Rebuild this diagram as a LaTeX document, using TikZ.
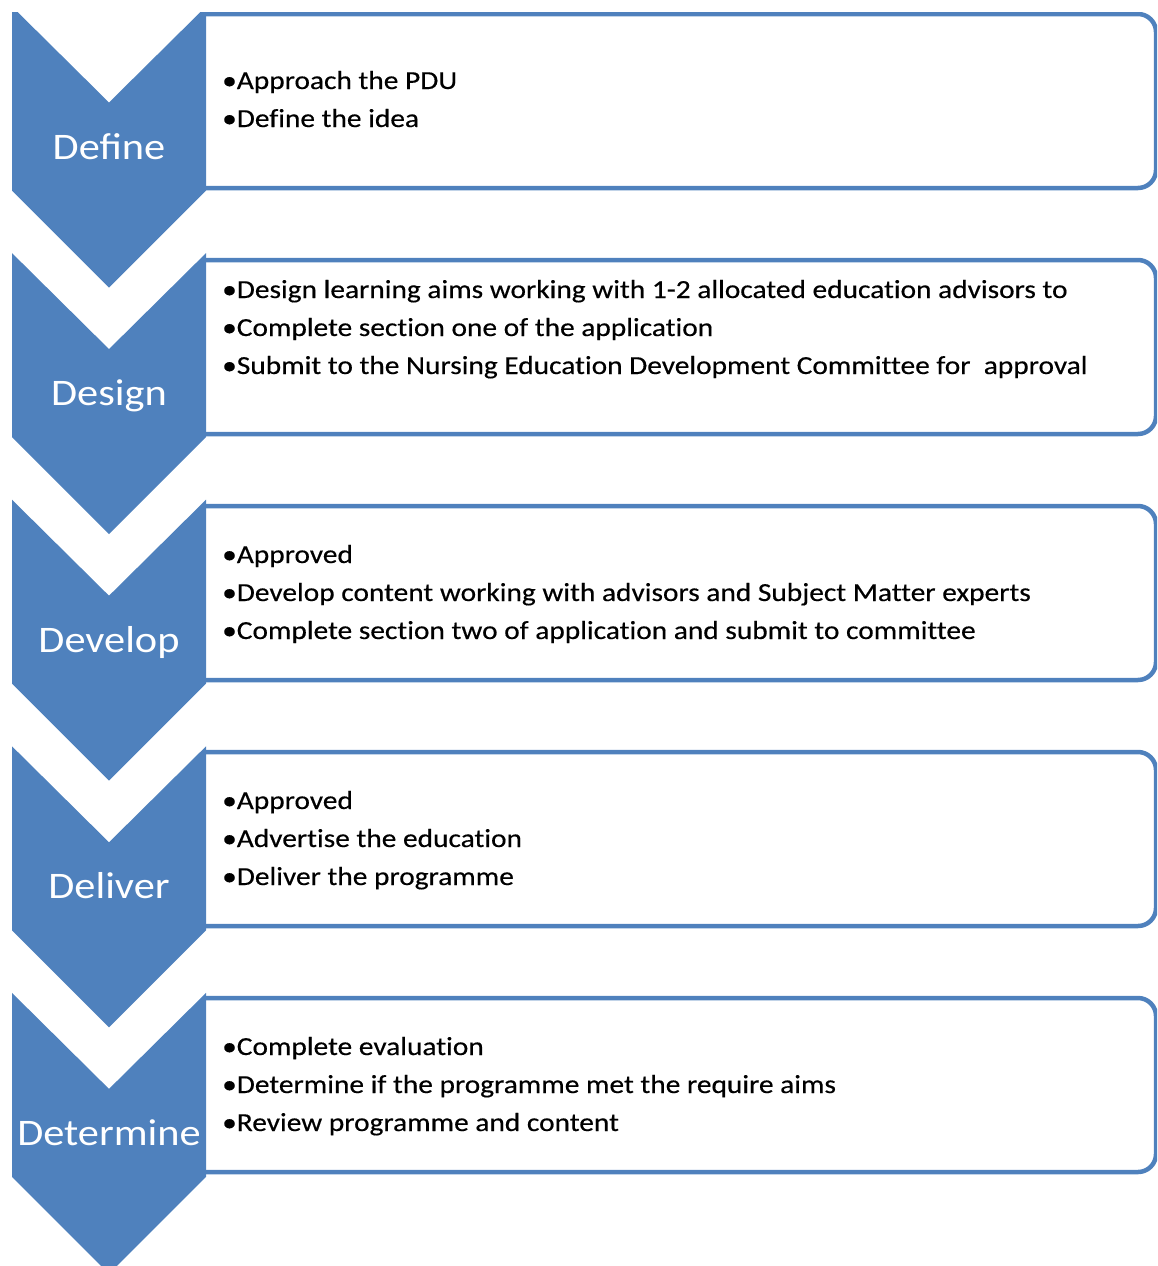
\documentclass[tikz,border=0pt]{standalone}
\usepackage{fontspec}
\setmainfont{Carlito}[FakeStretch=1.13,FakeBold=0.4,Ligatures=NoCommon]
\newfontfamily\stagefont{Carlito}[FakeStretch=1.13]
\usepackage{xcolor}
\definecolor{stageblue}{HTML}{4F81BD}

\begin{document}
\begin{tikzpicture}[x=1pt,y=-1pt,
    chevron/.style={fill=stageblue,draw=none},
    panel/.style={draw=stageblue,line width=4.5pt,rounded corners=18pt},
    stagename/.style={text=white,inner sep=0pt,anchor=base,font=\stagefont\fontsize{37.5}{40}\selectfont},
    items/.style={align=left,inner sep=0pt,anchor=base west,font=\fontsize{26}{38}\selectfont}]
  \useasboundingbox (0,0) rectangle (1157,1266);
  \clip (0,12) rectangle (1157,1266);
  % panels
  \draw[panel] (206,14) -- (1156,14) -- (1156,188) -- (206,188);
  \draw[panel] (206,260) -- (1156,260) -- (1156,434) -- (206,434);
  \draw[panel] (206,506) -- (1156,506) -- (1156,680) -- (206,680);
  \draw[panel] (206,752) -- (1156,752) -- (1156,926) -- (206,926);
  \draw[panel] (206,998) -- (1156,998) -- (1156,1172) -- (206,1172);
  % chevrons
  \fill[chevron] (12,6.5) -- (109,102.5) -- (206,6.5) -- (206,190.5) -- (109,287.5) -- (12,190.5) -- cycle;
  \fill[chevron] (12,253.1) -- (109,349.1) -- (206,253.1) -- (206,437.1) -- (109,534.1) -- (12,437.1) -- cycle;
  \fill[chevron] (12,499.7) -- (109,595.7) -- (206,499.7) -- (206,683.7) -- (109,780.7) -- (12,683.7) -- cycle;
  \fill[chevron] (12,746.3) -- (109,842.3) -- (206,746.3) -- (206,930.3) -- (109,1027.3) -- (12,930.3) -- cycle;
  \fill[chevron] (12,992.9) -- (109,1088.9) -- (206,992.9) -- (206,1176.9) -- (109,1273.9) -- (12,1176.9) -- cycle;
  % stage names
  \node (define) [stagename] at (109,159) {Define};
  \node (design) [stagename] at (109,405.5) {Design};
  \node (develop) [stagename] at (109,652) {Develop};
  \node (deliver) [stagename] at (109,898.5) {Deliver};
  \node (determine) [stagename] at (109,1145) {Determine};
  % items (anchored on the last line)
  \node (defineitems) [items] at (222,127) {•Approach the PDU\\•Define the idea};
  \node (designitems) [items] at (222,374) {•Design learning aims working with 1-2 allocated education advisors to\\•Complete section one of the application\\•Submit to the Nursing Education Development Committee for \ approval};
  \node (developitems) [items] at (222,639) {•Approved\\•Develop content working with advisors and Subject Matter experts\\•Complete section two of application and submit to committee};
  \node (deliveritems) [items] at (222,885) {•Approved\\•Advertise the education\\•Deliver the programme};
  \node (determineitems) [items] at (222,1131) {•Complete evaluation\\•Determine if the programme met the require aims\\•Review programme and content};
\end{tikzpicture}
\end{document}
